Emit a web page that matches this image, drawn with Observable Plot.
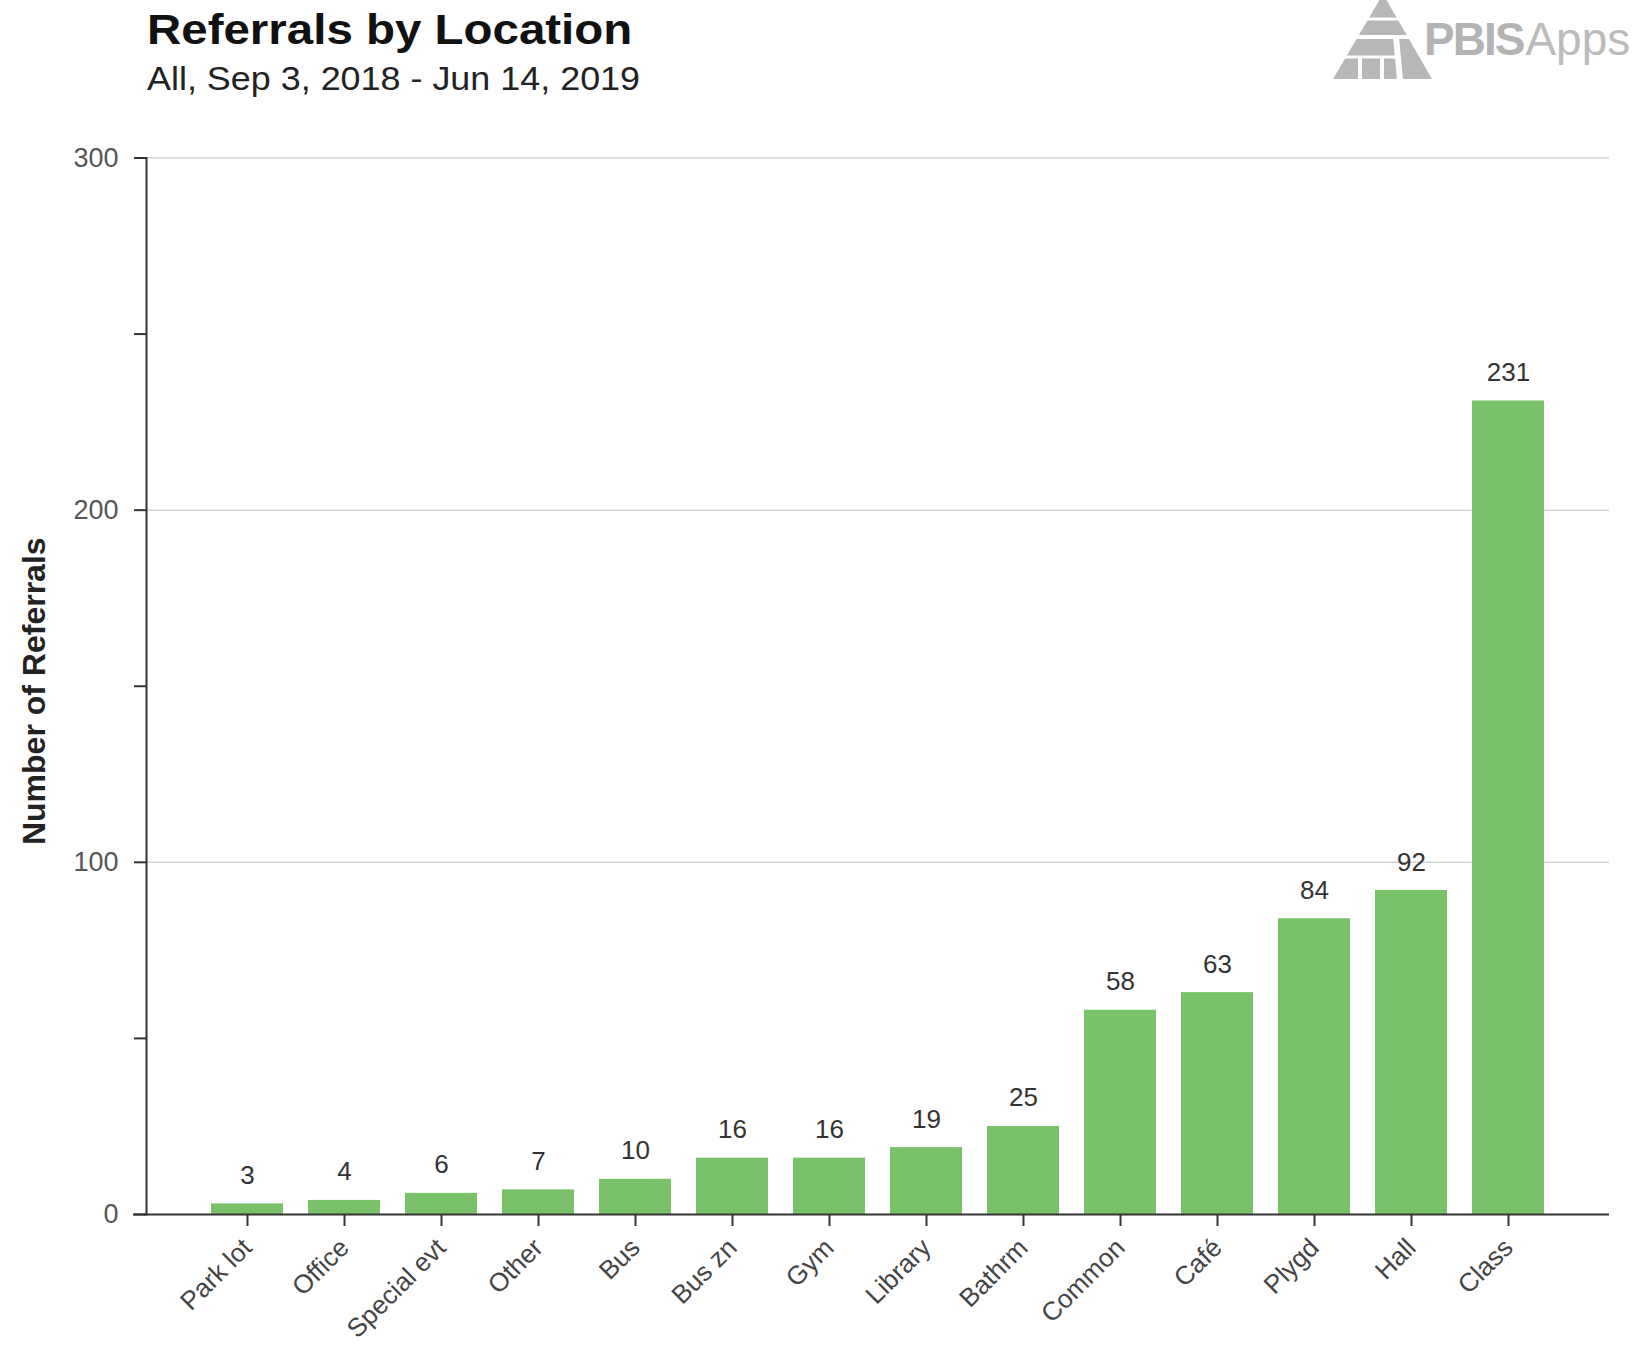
<!DOCTYPE html>
<html><head><meta charset="utf-8">
<script src="https://cdn.jsdelivr.net/npm/d3@7"></script>
<script src="https://cdn.jsdelivr.net/npm/@observablehq/plot@0.6"></script>
<style>
body{margin:0;background:#fff;font-family:"Liberation Sans",Arial,sans-serif;}
#page{position:relative;width:1638px;height:1348px;overflow:hidden;background:#fff;}
.title{position:absolute;left:147px;top:8.5px;font-size:42px;line-height:42px;font-weight:bold;color:#111;transform:scaleX(1.13);transform-origin:0 0;white-space:nowrap;}
.subtitle{position:absolute;left:147px;top:61px;font-size:34px;line-height:34px;color:#222;transform:scaleX(1.056);transform-origin:0 0;white-space:nowrap;}
#logo{position:absolute;left:1320px;top:0;}
#chart{position:absolute;left:0;top:110px;}
</style></head>
<body><div id="page">
<div class="title">Referrals by Location</div>
<div class="subtitle">All, Sep 3, 2018 - Jun 14, 2019</div>
<svg id="logo" width="318" height="90" viewBox="0 0 318 90">
  <polygon points="63,-6 13,79 112,79" fill="#b7b7b7"/>
  <line x1="0" y1="19" x2="120" y2="19" stroke="#fff" stroke-width="3"/>
  <line x1="0" y1="37" x2="120" y2="37" stroke="#fff" stroke-width="4"/>
  <line x1="40" y1="58" x2="40" y2="80" stroke="#fff" stroke-width="4"/>
  <line x1="62" y1="58" x2="62" y2="80" stroke="#fff" stroke-width="4"/>
  <line x1="76" y1="37" x2="80" y2="80" stroke="#fff" stroke-width="6"/>
  <line x1="0" y1="57" x2="78" y2="57" stroke="#fff" stroke-width="3"/>
  <text x="104" y="55" font-family="Liberation Sans, Arial, sans-serif" font-size="46"><tspan font-weight="bold" fill="#b3b3b3" letter-spacing="-2">PBIS</tspan><tspan dx="2" fill="#bbbbbb">Apps</tspan></text>
</svg>
<div id="chart"></div>
</div>
<script>
const locations = ["Park lot","Office","Special evt","Other","Bus","Bus zn","Gym","Library","Bathrm","Common","Café","Plygd","Hall","Class"];
const referrals = [3,4,6,7,10,16,16,19,25,58,63,84,92,231];
const majorTicks = [0,100,200,300];
const minorTicks = [50,150,250];
const yLabel = "Number of Referrals";

const data = locations.map((l,i)=>({location:l, value:referrals[i]}));
const font = '"Liberation Sans", Arial, sans-serif';

const chart = Plot.plot({
  width:1638, height:1238,
  marginTop:47.5, marginBottom:134, marginLeft:146, marginRight:29,
  style:{fontFamily:font, background:"transparent", overflow:"visible"},
  x:{domain:locations, paddingInner:0.26, paddingOuter:0.63, label:null},
  y:{domain:[0,300], label:null},
  marks:[
    Plot.gridY(majorTicks.slice(1), {stroke:"#d4d4d4", strokeOpacity:1, strokeWidth:1.5}),
    Plot.barY(data, {x:"location", y:"value", fill:"#79c26a"}),
    Plot.text(data, {x:"location", y:"value", text:d=>String(d.value), lineAnchor:"bottom", dy:-20, fontSize:26, fill:"#333"}),
    Plot.axisY(majorTicks, {tickSize:12, tickPadding:16, fontSize:27, fill:"#555", stroke:"#333", strokeWidth:2, label:null}),
    Plot.axisY(minorTicks, {tickSize:12, tickFormat:()=>"", stroke:"#333", strokeWidth:2, label:null}),
    Plot.frame({anchor:"left", stroke:"#333", strokeWidth:2}),
    Plot.ruleY([0], {stroke:"#333", strokeWidth:2, insetLeft:-13}),
    Plot.axisX({tickSize:12, tickPadding:17, tickRotate:-45, fontSize:26, fill:"#444", stroke:"#333", strokeWidth:2, label:null}),
    Plot.text([yLabel], {frameAnchor:"left", textAnchor:"middle", rotate:-90, dx:-112, dy:5, fontSize:32, fontWeight:"bold", fill:"#222"})
  ]
});
document.getElementById("chart").appendChild(chart);
</script>
</body></html>
